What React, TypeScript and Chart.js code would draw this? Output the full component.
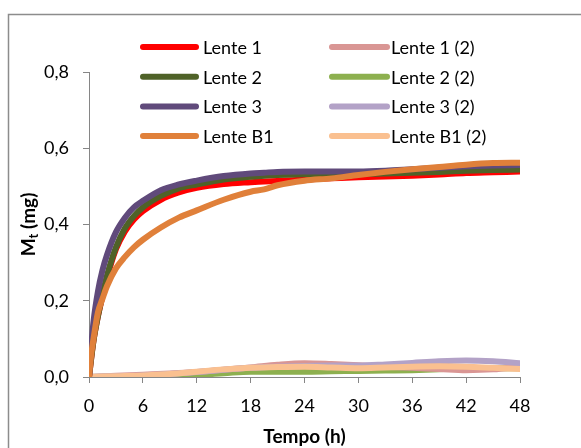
import React, { useEffect, useRef } from "react";
import { Chart, registerables } from "chart.js";

Chart.register(...registerables);

// Sampling times (h) for the main release curves
const hours = [0, 0.25, 0.5, 1, 1.5, 2, 3, 4, 5, 6, 8, 10, 12, 15, 18, 19.5, 21, 24, 27, 30, 33, 36, 39, 42, 45, 48];

// Released mass M_t (mg), first run
const lente1 = [0, 0.05, 0.095, 0.16, 0.212, 0.26, 0.335, 0.382, 0.413, 0.435, 0.465, 0.484, 0.496, 0.506, 0.511, 0.513, 0.514, 0.518, 0.521, 0.524, 0.526, 0.528, 0.531, 0.535, 0.537, 0.539];
const lente2 = [0, 0.05, 0.095, 0.16, 0.215, 0.265, 0.34, 0.39, 0.422, 0.445, 0.475, 0.495, 0.505, 0.518, 0.525, 0.528, 0.53, 0.532, 0.533, 0.533, 0.534, 0.536, 0.538, 0.541, 0.543, 0.544];
const lente3 = [0, 0.08, 0.145, 0.225, 0.28, 0.32, 0.38, 0.418, 0.445, 0.462, 0.49, 0.505, 0.515, 0.527, 0.534, 0.536, 0.538, 0.539, 0.539, 0.539, 0.541, 0.545, 0.549, 0.553, 0.555, 0.556];
const lenteB1 = [0, 0.06, 0.1, 0.17, 0.205, 0.238, 0.285, 0.315, 0.34, 0.36, 0.392, 0.418, 0.437, 0.465, 0.486, 0.492, 0.503, 0.515, 0.521, 0.53, 0.538, 0.545, 0.551, 0.557, 0.561, 0.562];

// Sampling times (h) for the second run
const hours2 = [0, 3, 6, 9, 12, 15, 18, 21, 24, 27, 30, 33, 36, 39, 42, 45, 48];

// Released mass M_t (mg), second run
const lente1Run2 = [0, 0.003, 0.006, 0.009, 0.013, 0.019, 0.025, 0.032, 0.036, 0.034, 0.031, 0.027, 0.024, 0.021, 0.018, 0.02, 0.027];
const lente2Run2 = [0, 0.001, 0.002, 0.004, 0.006, 0.01, 0.014, 0.014, 0.014, 0.015, 0.016, 0.017, 0.018, 0.02, 0.023, 0.023, 0.023];
const lente3Run2 = [0, 0.002, 0.004, 0.008, 0.013, 0.019, 0.024, 0.027, 0.029, 0.03, 0.03, 0.033, 0.037, 0.041, 0.043, 0.041, 0.036];
const lenteB1Run2 = [0, 0.002, 0.004, 0.008, 0.014, 0.02, 0.024, 0.026, 0.027, 0.025, 0.023, 0.025, 0.027, 0.028, 0.027, 0.024, 0.021];

const seriesLabels = ["Lente 1", "Lente 2", "Lente 3", "Lente B1", "Lente 1 (2)", "Lente 2 (2)", "Lente 3 (2)", "Lente B1 (2)"];
const seriesColors = ["#FF0000", "#4F6228", "#604A7B", "#E0803A", "#D99694", "#8DB04F", "#B3A2C7", "#FAC090"];
// lower value = drawn later (on top)
const drawOrder = [4, 3, 2, 1, 7, 8, 6, 5];

const xTicks = [0, 6, 12, 18, 24, 30, 36, 42, 48];
const yTicks = [0, 0.2, 0.4, 0.6, 0.8];

const FONT = "Lato, 'Open Sans', sans-serif";
const AXIS_GREY = "#868686";

const toPoints = (xs: number[], ys: number[]) => xs.map((x, i) => ({ x, y: ys[i] }));

const overlayPlugin = {
  id: "overlay",
  afterDraw(chart: any) {
    const ctx: CanvasRenderingContext2D = chart.ctx;
    const area = chart.chartArea;
    ctx.save();

    // outer frame
    ctx.strokeStyle = "#8c8c8c";
    ctx.lineWidth = 1.5;
    ctx.beginPath();
    ctx.moveTo(8.5, chart.height + 2);
    ctx.lineTo(8.5, 14.5);
    ctx.lineTo(chart.width + 2, 14.5);
    ctx.stroke();

    // legend, two columns of four
    const colLine = [
      [143, 196],
      [332, 387],
    ];
    const colText = [203, 391];
    ctx.font = `18px ${FONT}`;
    ctx.textBaseline = "middle";
    ctx.textAlign = "left";
    chart.data.datasets.forEach((ds: any, i: number) => {
      const col = Math.floor(i / 4);
      const row = i % 4;
      const y = 47 + row * 29.7;
      ctx.strokeStyle = ds.borderColor;
      ctx.lineWidth = 6;
      ctx.lineCap = "round";
      ctx.beginPath();
      ctx.moveTo(colLine[col][0], y);
      ctx.lineTo(colLine[col][1], y);
      ctx.stroke();
      ctx.fillStyle = "#000";
      ctx.fillText(ds.label, colText[col], y + 1);
    });

    // x axis title
    ctx.font = `bold 19px ${FONT}`;
    ctx.textAlign = "center";
    ctx.fillText("Tempo (h)", (area.left + area.right) / 2, 437);

    // y axis title with subscript
    ctx.translate(29, (area.top + area.bottom) / 2);
    ctx.rotate(-Math.PI / 2);
    const main = "M";
    const sub = "t";
    const rest = " (mg)";
    ctx.font = `bold 19px ${FONT}`;
    const wM = ctx.measureText(main).width;
    const wR = ctx.measureText(rest).width;
    ctx.font = `bold 13px ${FONT}`;
    const wS = ctx.measureText(sub).width;
    const total = wM + wS + wR;
    let x = -total / 2;
    ctx.textAlign = "left";
    ctx.textBaseline = "alphabetic";
    ctx.font = `bold 19px ${FONT}`;
    ctx.fillText(main, x, 6);
    x += wM;
    ctx.font = `bold 13px ${FONT}`;
    ctx.fillText(sub, x, 9);
    x += wS;
    ctx.font = `bold 19px ${FONT}`;
    ctx.fillText(rest, x, 6);

    ctx.restore();
  },
};

export default function App() {
  const canvasRef = useRef<HTMLCanvasElement | null>(null);

  useEffect(() => {
    if (!canvasRef.current) return;
    const main = [lente1, lente2, lente3, lenteB1];
    const second = [lente1Run2, lente2Run2, lente3Run2, lenteB1Run2];
    const datasets = seriesLabels.map((label, i) => ({
      label,
      data: i < 4 ? toPoints(hours, main[i]) : toPoints(hours2, second[i - 4]),
      borderColor: seriesColors[i],
      backgroundColor: seriesColors[i],
      borderWidth: 6,
      pointRadius: 0,
      fill: false,
      tension: 0.4,
      cubicInterpolationMode: "monotone" as const,
      borderCapStyle: "round" as const,
      borderJoinStyle: "round" as const,
      order: drawOrder[i],
    }));

    const chart = new Chart(canvasRef.current, {
      type: "line",
      data: { datasets },
      options: {
        animation: false,
        responsive: false,
        devicePixelRatio: 1,
        layout: { padding: { top: 72, right: 61, left: 0, bottom: 0 } },
        plugins: {
          legend: { display: false },
          tooltip: { enabled: false },
          title: { display: false },
        },
        scales: {
          x: {
            type: "linear",
            min: 0,
            max: 48,
            afterBuildTicks: (scale: any) => {
              scale.ticks = xTicks.map((v) => ({ value: v }));
            },
            afterFit: (scale: any) => {
              scale.height = 71;
            },
            ticks: {
              padding: 12,
              color: "#000",
              font: { family: FONT, size: 18 },
              maxRotation: 0,
              callback: (v: any) => String(v),
            },
            grid: { drawOnChartArea: false, drawTicks: true, tickLength: 6, color: AXIS_GREY },
            border: { display: true, color: AXIS_GREY, width: 1 },
          },
          y: {
            type: "linear",
            min: 0,
            max: 0.8,
            afterBuildTicks: (scale: any) => {
              scale.ticks = yTicks.map((v) => ({ value: v }));
            },
            afterFit: (scale: any) => {
              scale.width = 89;
            },
            ticks: {
              padding: 14,
              color: "#000",
              font: { family: FONT, size: 18 },
              callback: (v: any) => Number(v).toFixed(1).replace(".", ","),
            },
            grid: { drawOnChartArea: false, drawTicks: true, tickLength: 6, color: AXIS_GREY },
            border: { display: true, color: AXIS_GREY, width: 1 },
          },
        },
      },
      plugins: [overlayPlugin],
    });

    return () => chart.destroy();
  }, []);

  return (
    <div style={{ position: "fixed", left: 0, top: 0, width: 581, height: 448, background: "#fff" }}>
      <canvas ref={canvasRef} width={581} height={448} style={{ display: "block" }} />
    </div>
  );
}
